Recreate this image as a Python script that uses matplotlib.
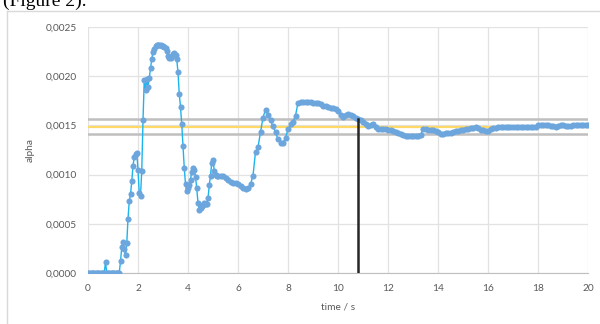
import numpy as np
import matplotlib
matplotlib.use("Agg")
import matplotlib.pyplot as plt
from matplotlib.lines import Line2D

# alpha readings, 0.00 .. 5.20 s every 0.05 s
alpha_early = [
    0, 0, 0, 0, 0, 0, 0, 0, 0, 0,
    0, 0, 0, 0, 0.00011, 0, 0, 0, 0, 0,
    0, 0, 0, 0, 0, 0, 0.00012, 0.00026, 0.00031, 0.00024,
    0.00018, 0.00030, 0.00055, 0.00073, 0.00080, 0.00093, 0.00109, 0.00118, 0.00121, 0.00122,
    0.00105, 0.00081, 0.00078, 0.00104, 0.00155, 0.00196, 0.00186, 0.00197, 0.00189, 0.00198,
    0.00208, 0.00217, 0.00225, 0.00228, 0.00231, 0.00232, 0.00232, 0.00232, 0.00232, 0.00231,
    0.00231, 0.00230, 0.00229, 0.00226, 0.00221, 0.00219, 0.00219, 0.00221, 0.00223, 0.00224,
    0.00222, 0.00217, 0.00204, 0.00182, 0.00169, 0.00151, 0.00129, 0.00107, 0.00090, 0.00083,
    0.00086, 0.00089, 0.00095, 0.00103, 0.00107, 0.00105, 0.00098, 0.00086, 0.00071, 0.00064,
    0.00066, 0.00068, 0.00069, 0.00071, 0.00070, 0.00070, 0.00076, 0.00089, 0.00099, 0.00112,
    0.00115, 0.00104, 0.00100, 0.00099, 0.00099,
]

# alpha readings, 5.3 .. 20.0 s every 0.1 s
alpha_late = [
    0.00099, 0.00099, 0.00097, 0.00095, 0.00092, 0.00091, 0.00091,                       # 5.3
    0.00090, 0.00088, 0.00086, 0.00085, 0.00086, 0.00090, 0.00099, 0.00123, 0.00128, 0.00143,  # 6
    0.00158, 0.00166, 0.00161, 0.00155, 0.00149, 0.00143, 0.00136, 0.00132, 0.00132, 0.00137,  # 7
    0.00146, 0.00151, 0.00153, 0.00160, 0.00173, 0.00174, 0.00174, 0.00174, 0.00174, 0.00174,  # 8
    0.00173, 0.00173, 0.00173, 0.00172, 0.00170, 0.00170, 0.00169, 0.00168, 0.00168, 0.00167,  # 9
    0.00165, 0.00161, 0.00159, 0.00161, 0.00162, 0.00161, 0.00160, 0.00158, 0.00156, 0.00155,  # 10
    0.00153, 0.00151, 0.00149, 0.00150, 0.00151, 0.00148, 0.00146, 0.00146, 0.00146, 0.00146,  # 11
    0.00145, 0.00145, 0.00144, 0.00143, 0.00142, 0.00141, 0.00140, 0.00139, 0.00139, 0.00139,  # 12
    0.00139, 0.00139, 0.00139, 0.00140, 0.00146, 0.00146, 0.00145, 0.00145, 0.00145, 0.00144,  # 13
    0.00143, 0.00141, 0.00141, 0.00142, 0.00142, 0.00142, 0.00143, 0.00144, 0.00144, 0.00145,  # 14
    0.00145, 0.00146, 0.00146, 0.00147, 0.00147, 0.00148, 0.00147, 0.00145, 0.00145, 0.00144,  # 15
    0.00144, 0.00146, 0.00147, 0.00147, 0.00148, 0.00148, 0.00148, 0.00148, 0.00148, 0.00148,  # 16
    0.00148, 0.00148, 0.00148, 0.00148, 0.00148, 0.00148, 0.00148, 0.00148, 0.00148, 0.00148,  # 17
    0.00150, 0.00150, 0.00150, 0.00150, 0.00150, 0.00149, 0.00149, 0.00148, 0.00149, 0.00150,  # 18
    0.00150, 0.00149, 0.00149, 0.00149, 0.00150, 0.00150, 0.00150, 0.00150, 0.00150, 0.00150,  # 19
    0.00150,                                                                               # 20
]

alpha_mean = 0.001487
alpha_band = [0.001413, 0.001565]
t_cross = 10.8
alpha_cross = 0.00157

x_ticks = [0, 2, 4, 6, 8, 10, 12, 14, 16, 18, 20]
y_ticks = [0.0, 0.0005, 0.0010, 0.0015, 0.0020, 0.0025]

t_early = np.round(np.arange(len(alpha_early)) * 0.05, 2)
t_late = np.round(5.3 + np.arange(len(alpha_late)) * 0.1, 2)
t = np.concatenate([t_early, t_late])
alpha = np.array(alpha_early + alpha_late)

txt = '#595959'
font = ['Lato', 'DejaVu Sans']

fig = plt.figure(figsize=(6.0, 3.24), dpi=100)
fig.patch.set_facecolor('white')

# caption cut off at the top of the screenshot
fig.text(3 / 600, 1 - 6 / 324, '(Figure 2).', family='Liberation Serif', fontsize=14,
         color='black', ha='left', va='baseline')

# chart frame
fig.add_artist(Line2D([7 / 600, 1.0], [1 - 10.5 / 324] * 2, color='#D9D9D9', lw=1))
fig.add_artist(Line2D([7 / 600] * 2, [0, 1 - 10.5 / 324], color='#D9D9D9', lw=1))

ax = fig.add_axes([88 / 600, 1 - 273 / 324, 500 / 600, 246 / 324])

ax.axhline(alpha_band[0], color='#BFBFBF', lw=1.8, zorder=2)
ax.axhline(alpha_band[1], color='#BFBFBF', lw=1.8, zorder=2)
ax.axhline(alpha_mean, color='#FFD966', lw=1.6, zorder=2)

ax.plot(t, alpha, color='#1CB4EE', lw=1, zorder=3)
ax.plot(t, alpha, 'o', ms=4.4, color='#6CA6DC', mec='none', zorder=4)

ax.plot([t_cross, t_cross], [0, alpha_cross], color='#262626', lw=1.8, zorder=5)

ax.set_xlim(0, 20)
ax.set_ylim(0, 0.0025)
ax.set_xticks(x_ticks)
ax.set_yticks(y_ticks)
ax.set_xticklabels([str(v) for v in x_ticks])
ax.set_yticklabels([f'{v:.4f}'.replace('.', ',') for v in y_ticks])
ax.grid(True, color='#E2E2E2', lw=0.9)
ax.set_axisbelow(True)
for s in ['top', 'right', 'left']:
    ax.spines[s].set_visible(False)
ax.spines['bottom'].set_color('#BFBFBF')
ax.tick_params(length=0, labelsize=7.3, labelcolor=txt, pad=8)
for lab in ax.get_xticklabels() + ax.get_yticklabels():
    lab.set_family(font)

ax.set_xlabel('time / s', fontsize=7.3, color=txt, family=font, labelpad=7)
ax.set_ylabel('alpha', fontsize=7.3, color=txt, family=font, labelpad=8)

fig.savefig('out.png', dpi=100)
